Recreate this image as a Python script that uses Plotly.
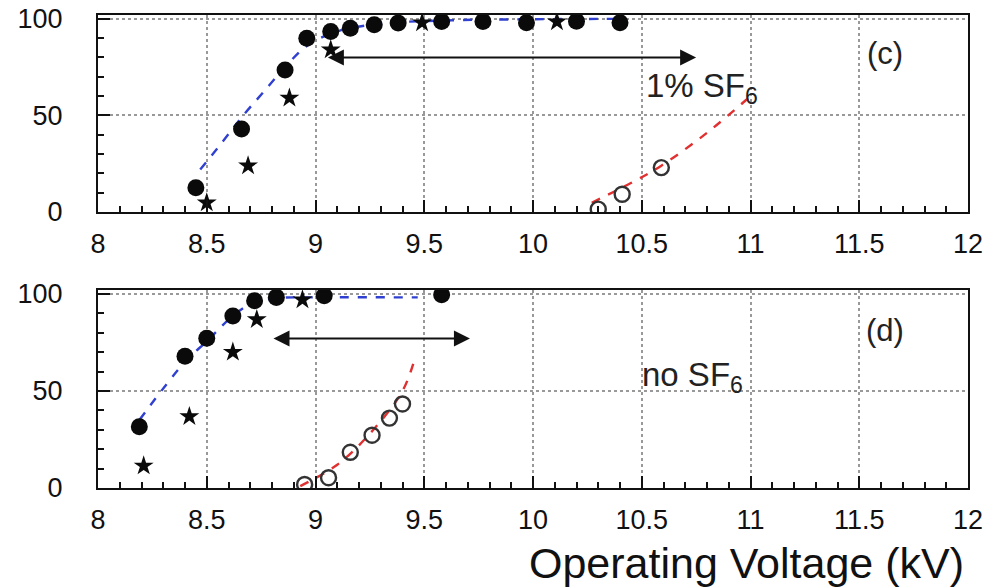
import plotly.graph_objects as go
from plotly.subplots import make_subplots

# ---------------- data: panel (c) 1% SF6 ----------------
c_eff_x = [8.45, 8.66, 8.86, 8.96, 9.07, 9.16, 9.27, 9.38, 9.58, 9.77, 9.97, 10.20, 10.40]
c_eff_y = [12.5, 43, 73.5, 90, 93.4, 95.1, 96.9, 97.8, 98.6, 98.6, 98.0, 98.8, 98.0]
c_star_x = [8.50, 8.69, 8.88, 9.07, 9.49, 10.11]
c_star_y = [4.8, 24, 59, 84, 98, 98.5]
c_open_x = [10.30, 10.41, 10.59]
c_open_y = [1.5, 9.2, 23]
c_blue_x = [8.47, 8.57, 8.66, 8.76, 8.86, 8.96, 9.10, 9.30, 9.60, 10.0, 10.4]
c_blue_y = [22, 36, 49, 62, 75, 86, 93.5, 97.5, 99.2, 99.8, 100]
c_red_x = [10.27, 10.45, 10.59, 10.80, 11.0]
c_red_y = [4.8, 15, 24, 41, 60]
c_arrow_x = [9.05, 10.75]
c_arrow_y = 80

# ---------------- data: panel (d) no SF6 ----------------
d_eff_x = [8.19, 8.40, 8.50, 8.62, 8.72, 8.82, 9.04, 9.58]
d_eff_y = [31.6, 67.9, 77.2, 88.6, 96.5, 98.2, 99, 99.5]
d_star_x = [8.21, 8.42, 8.62, 8.73, 8.94]
d_star_y = [11.4, 36.8, 70, 86.8, 97]
d_open_x = [8.95, 9.06, 9.16, 9.26, 9.34, 9.40]
d_open_y = [1.8, 5.3, 18.4, 27.2, 36, 43.3]
d_blue_x = [8.19, 8.40, 8.50, 8.62, 8.72, 8.83, 9.0, 9.47]
d_blue_y = [35, 65, 75.6, 88.6, 95.8, 97.9, 98.2, 98.2]
d_red_x = [8.93, 9.10, 9.25, 9.40, 9.46]
d_red_y = [1, 12, 28, 50, 68]
d_arrow_x = [8.80, 9.71]
d_arrow_y = 77

FONT = "Liberation Sans, Arial, sans-serif"

fig = make_subplots(rows=2, cols=1)

def add_panel(row, ex, ey, sx, sy, ox, oy, bx, by, rx, ry):
    fig.add_trace(go.Scatter(x=bx, y=by, mode="lines", line=dict(color="#3040d0", width=2.4, dash="dash", shape="spline"),
                             showlegend=False, hoverinfo="skip"), row=row, col=1)
    fig.add_trace(go.Scatter(x=rx, y=ry, mode="lines", line=dict(color="#e03030", width=2.4, dash="dash", shape="spline"),
                             showlegend=False, hoverinfo="skip"), row=row, col=1)
    fig.add_trace(go.Scatter(x=ex, y=ey, mode="markers", marker=dict(symbol="circle", size=17, color="#0a0a0a"),
                             showlegend=False), row=row, col=1)
    fig.add_trace(go.Scatter(x=sx, y=sy, mode="markers", marker=dict(symbol="star", size=15, color="#0a0a0a"),
                             showlegend=False), row=row, col=1)
    fig.add_trace(go.Scatter(x=ox, y=oy, mode="markers",
                             marker=dict(symbol="circle-open", size=15, color="#333333", line=dict(width=2.4)),
                             showlegend=False), row=row, col=1)

add_panel(1, c_eff_x, c_eff_y, c_star_x, c_star_y, c_open_x, c_open_y, c_blue_x, c_blue_y, c_red_x, c_red_y)
add_panel(2, d_eff_x, d_eff_y, d_star_x, d_star_y, d_open_x, d_open_y, d_blue_x, d_blue_y, d_red_x, d_red_y)

xaxis_style = dict(range=[8, 12], tickmode="linear", tick0=8, dtick=0.5, ticks="inside", ticklen=12, tickwidth=2,
                   tickcolor="#111", showline=True, linewidth=2, linecolor="#111", mirror=True,
                   showgrid=True, gridcolor="#999", griddash="dot", gridwidth=1.5, zeroline=False,
                   minor=dict(dtick=0.1, tick0=8, ticks="inside", ticklen=6, tickwidth=1.5, tickcolor="#111", showgrid=False),
                   tickfont=dict(family=FONT, size=27, color="#111"), ticklabelstandoff=7,
                   ticklabeloverflow="allow", automargin=False)
yaxis_style = dict(range=[0, 102], tickmode="linear", tick0=0, dtick=50, ticks="inside", ticklen=12, tickwidth=2,
                   tickcolor="#111", showline=True, linewidth=2, linecolor="#111", mirror=True,
                   showgrid=True, gridcolor="#999", griddash="dot", gridwidth=1.5, zeroline=False,
                   minor=dict(dtick=10, tick0=0, ticks="inside", ticklen=6, tickwidth=1.5, tickcolor="#111", showgrid=False),
                   tickfont=dict(family=FONT, size=27, color="#111"), ticklabelstandoff=28,
                   ticklabeloverflow="allow", automargin=False)

fig.update_xaxes(**xaxis_style)
fig.update_yaxes(**yaxis_style)
fig.update_layout(
    xaxis=dict(domain=[0, 1]), yaxis=dict(domain=[0.5835, 1]),
    xaxis2=dict(domain=[0, 1]), yaxis2=dict(domain=[0, 0.4186]),
    width=987, height=588, margin=dict(l=98, r=19, t=15, b=100, autoexpand=False),
    plot_bgcolor="white", paper_bgcolor="white", font=dict(family=FONT, color="#111"),
)

annotations = [
    dict(x=c_arrow_x[1], y=c_arrow_y, ax=c_arrow_x[0], ay=c_arrow_y, xref="x", yref="y", axref="x", ayref="y",
         text="", showarrow=True, arrowhead=2, arrowside="end+start", arrowsize=1.6, arrowwidth=2, arrowcolor="#111"),
    dict(x=d_arrow_x[1], y=d_arrow_y, ax=d_arrow_x[0], ay=d_arrow_y, xref="x2", yref="y2", axref="x2", ayref="y2",
         text="", showarrow=True, arrowhead=2, arrowside="end+start", arrowsize=1.6, arrowwidth=2, arrowcolor="#111"),
    dict(x=10.51, y=64, xref="x", yref="y", text="1% SF<sub>6</sub>", showarrow=False,
         font=dict(family=FONT, size=33, color="#222"), xanchor="left"),
    dict(x=11.62, y=82, xref="x", yref="y", text="(c)", showarrow=False,
         font=dict(family=FONT, size=31, color="#222")),
    dict(x=10.49, y=57, xref="x2", yref="y2", text="no SF<sub>6</sub>", showarrow=False,
         font=dict(family=FONT, size=33, color="#222"), xanchor="left"),
    dict(x=11.62, y=81, xref="x2", yref="y2", text="(d)", showarrow=False,
         font=dict(family=FONT, size=31, color="#222")),
    dict(x=0.998, y=-0.1586, xref="paper", yref="paper", text="Operating Voltage (kV)", showarrow=False,
         xanchor="right", yanchor="middle", font=dict(family=FONT, size=43, color="#111")),
]
fig.update_layout(annotations=annotations)

fig.write_html("out.html", config={"displayModeBar": False},
               post_script="document.body.style.margin='0';document.body.style.overflow='hidden';")
